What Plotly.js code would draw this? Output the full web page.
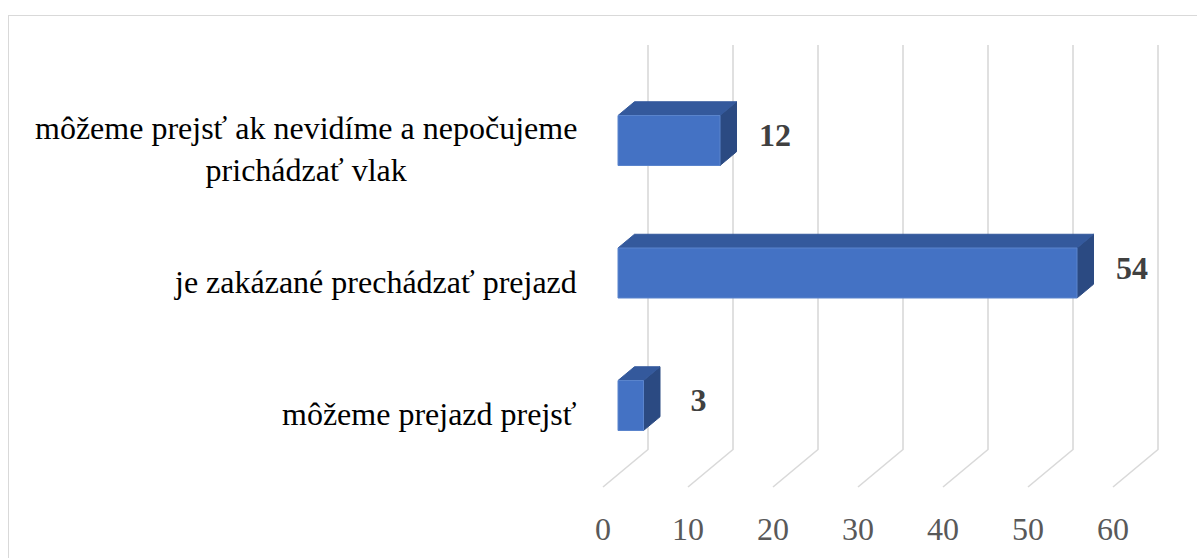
<!DOCTYPE html>
<html>
<head>
<meta charset="utf-8">
<script src="https://cdn.plot.ly/plotly-3.0.1.min.js"></script>
<style>
  html, body { margin: 0; padding: 0; background: #ffffff; overflow: hidden; }
  #chart { position: absolute; left: 0; top: 0; width: 1197px; height: 558px; }
  #frame { position: absolute; left: 8px; top: 15px; width: 1400px; height: 800px;
           border-left: 1.5px solid #d9d9d9; border-top: 1.5px solid #d9d9d9; pointer-events: none; }
</style>
</head>
<body>
<div id="chart"></div>
<div id="frame"></div>
<script>
// ---- data ----
const categories = [
  "môžeme prejazd prejsť",
  "je zakázané prechádzať prejazd",
  "môžeme prejsť ak nevidíme a nepočujeme<br>prichádzať vlak"
];
const values = [3, 54, 12];
const tickVals = [0, 10, 20, 30, 40, 50, 60];
const tickText = ["0", "10", "20", "30", "40", "50", "60"];

// ---- geometry (pixels) ----
const W = 1197, H = 558;
const PL = 590, PB = 490;         // plot-area left / bottom
const X0 = 603, UX = 8.5;         // px of value 0 on front floor edge, px per unit
const Y0 = 418, UC = 132.5;       // px of category 0 (front plane), px per category
const DX = 45 / UX, DY = 37.5 / UC;  // full depth offset in axis units
const FLOOR = -69 / UC;           // floor level (category units)
const TOP = 335.5 / UC;           // back wall top (category units)
const D1 = 1 / 3, D2 = 0.70;      // bar depth span
const HB = 25 / UC;               // half bar thickness

function P(v, c, d) { return [v + d * DX, c + d * DY]; }

const traces = [];

// gridlines: back wall verticals + floor diagonals
const gx = [], gy = [];
tickVals.forEach(v => {
  const a = P(v, TOP, 1), b = P(v, FLOOR, 1), f = P(v, FLOOR, 0);
  gx.push(a[0], b[0], f[0], null);
  gy.push(a[1], b[1], f[1], null);
});
traces.push({x: gx, y: gy, mode: 'lines', line: {color: '#d9d9d9', width: 1.6},
  hoverinfo: 'skip', showlegend: false});

function poly(pts, color, lineColor) {
  const xs = pts.map(p => p[0]); const ys = pts.map(p => p[1]);
  xs.push(xs[0]); ys.push(ys[0]);
  return {x: xs, y: ys, mode: 'lines', fill: 'toself', fillcolor: color,
    line: {color: lineColor || color, width: 1}, hoverinfo: 'skip', showlegend: false};
}

values.forEach((val, c) => {
  const lo = c - HB, hi = c + HB;
  // side face
  traces.push(poly([P(val, lo, D1), P(val, lo, D2), P(val, hi, D2), P(val, hi, D1)], '#2b4a82'));
  // top face
  traces.push(poly([P(0, hi, D1), P(val, hi, D1), P(val, hi, D2), P(0, hi, D2)], '#34599c'));
  // front face
  traces.push(poly([P(0, lo, D1), P(val, lo, D1), P(val, hi, D1), P(0, hi, D1)], '#4472c4', '#5a84cc'));
});

// data labels
traces.push({
  x: values.map(v => v + 70 / UX),
  y: values.map((v, c) => c + 0.11),
  mode: 'text', text: values.map(String), textposition: 'middle center',
  textfont: {family: 'Liberation Serif, serif', size: 32, color: '#404040', weight: 'bold'},
  hoverinfo: 'skip', showlegend: false, cliponaxis: false
});

const annotations = categories.map((t, c) => ({
  text: t, xref: 'paper', yref: 'y', x: (579 - PL) / (W - PL), y: c + 0.03,
  xanchor: 'right', yanchor: 'middle', align: 'center', showarrow: false,
  font: {family: 'Liberation Serif, serif', size: 32, color: '#000000'}
}));

const layout = {
  width: W, height: H,
  margin: {l: PL, r: 0, t: 0, b: H - PB, pad: 0, autoexpand: false},
  paper_bgcolor: '#ffffff', plot_bgcolor: 'rgba(0,0,0,0)',
  showlegend: false,
  xaxis: {
    range: [(PL - X0) / UX, (W - X0) / UX], autorange: false, fixedrange: true,
    showgrid: false, zeroline: false, showline: false, ticks: '',
    tickmode: 'array', tickvals: tickVals, ticktext: tickText,
    ticklabelstandoff: 17,
    tickfont: {family: 'Liberation Serif, serif', size: 32, color: '#595959'}
  },
  yaxis: {
    range: [(Y0 - PB) / UC, Y0 / UC], autorange: false, fixedrange: true,
    showgrid: false, zeroline: false, showline: false, ticks: '', showticklabels: false
  },
  annotations: annotations
};

Plotly.newPlot('chart', traces, layout, {staticPlot: true, displayModeBar: false});
</script>
</body>
</html>
